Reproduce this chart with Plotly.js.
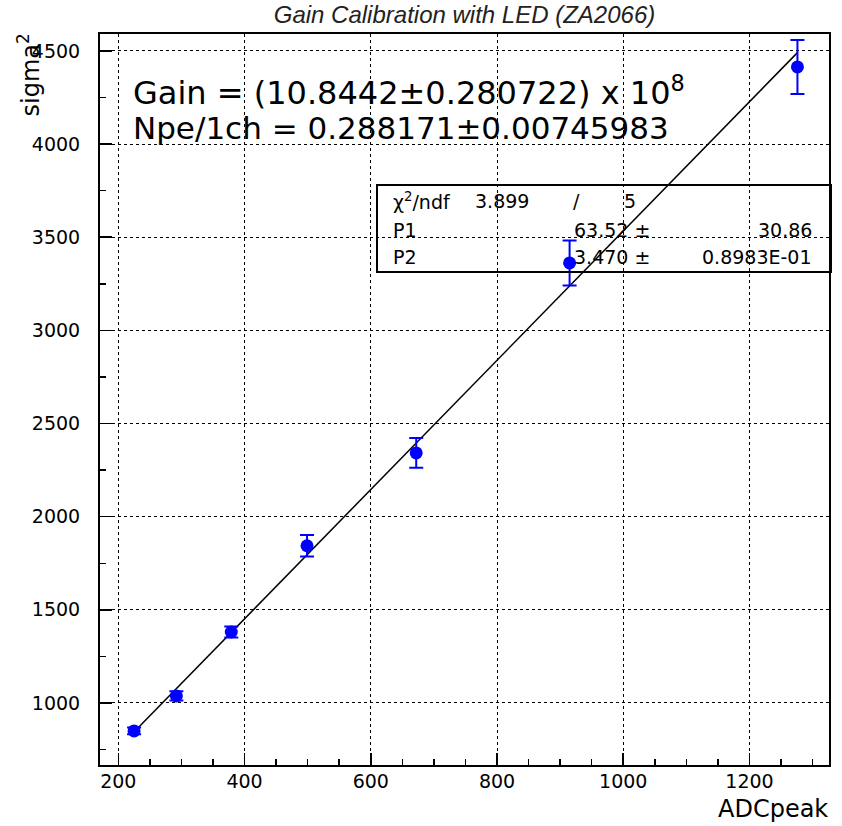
<!DOCTYPE html>
<html><head><meta charset="utf-8">
<script src="https://cdn.plot.ly/plotly-3.0.1.min.js"></script>
<style>html,body{margin:0;padding:0;background:#fff;}#chart{width:842px;height:826px;}</style>
</head><body><div id="chart"></div>
<script>
// ---- data ----
const adcPeak   = [225, 292, 379, 499, 672, 915, 1276];
const sigma2    = [850, 1038, 1381, 1844, 2342, 3362, 4414];
const sigma2Err = [18, 25, 30, 58, 80, 121, 145];
const fitX = [226, 1276];
const fitY = [848, 4491];
const xTickVals = [200, 400, 600, 800, 1000, 1200];
const yTickVals = [1000, 1500, 2000, 2500, 3000, 3500, 4000, 4500];
const titleText = 'Gain Calibration with LED (ZA2066)';
const xTitle = 'ADCpeak';
const yTitle = 'sigma<sup>2</sup>';
const gainText = 'Gain = (10.8442±0.280722) x 10<sup>8</sup>';
const npeText = 'Npe/1ch = 0.288171±0.00745983';
const statNames = ['χ<sup>2</sup>/ndf', 'P1', 'P2'];
const chi2Parts = ['3.899', '/', '5'];
const parVals = ['63.52 ±', '3.470 ±'];
const parErrs = ['30.86', '0.8983E-01'];

// ---- geometry helpers (pixel -> paper) ----
const L = 100, T = 34, W = 729, H = 731;
const px = x => (x - L) / W;
const py = y => 1 - (y - T) / H;
const FONT = 'DejaVu Sans, Liberation Sans, sans-serif';

const traces = [
  { x: fitX, y: fitY, mode: 'lines', line: {color: '#000', width: 1.5}, hoverinfo: 'skip' },
  { x: adcPeak, y: sigma2, mode: 'markers',
    marker: {color: '#0000ff', size: 13, symbol: 'circle'},
    error_y: {type: 'data', array: sigma2Err, color: '#0000ff', thickness: 2, width: 7} }
];

const annotations = [
  {text: gainText, xref: 'paper', yref: 'paper', x: px(131), y: py(91), xanchor: 'left', yanchor: 'middle', showarrow: false, font: {family: FONT, size: 32, color: '#000'}},
  {text: npeText, xref: 'paper', yref: 'paper', x: px(131), y: py(128), xanchor: 'left', yanchor: 'middle', showarrow: false, font: {family: FONT, size: 31, color: '#000'}},
  {text: yTitle, xref: 'paper', yref: 'paper', x: px(29), y: py(32), xanchor: 'center', yanchor: 'top', textangle: -90, showarrow: false, font: {family: FONT, size: 24, color: '#000'}},
  {text: xTitle, xref: 'paper', yref: 'paper', x: px(830), y: py(809), xanchor: 'right', yanchor: 'middle', showarrow: false, font: {family: FONT, size: 24, color: '#000'}}
];
const statY = [201, 230, 257];
const sf = {family: FONT, size: 19, color: '#000'};
statNames.forEach((s, i) => annotations.push({text: s, xref: 'paper', yref: 'paper', x: px(391), y: py(statY[i]), xanchor: 'left', yanchor: 'middle', showarrow: false, font: sf}));
annotations.push({text: chi2Parts[0], xref: 'paper', yref: 'paper', x: px(473), y: py(statY[0]), xanchor: 'left', yanchor: 'middle', showarrow: false, font: sf});
annotations.push({text: chi2Parts[1], xref: 'paper', yref: 'paper', x: px(576), y: py(statY[0]), xanchor: 'center', yanchor: 'middle', showarrow: false, font: sf});
annotations.push({text: chi2Parts[2], xref: 'paper', yref: 'paper', x: px(622), y: py(statY[0]), xanchor: 'left', yanchor: 'middle', showarrow: false, font: sf});
parVals.forEach((s, i) => annotations.push({text: s, xref: 'paper', yref: 'paper', x: px(572), y: py(statY[i + 1]), xanchor: 'left', yanchor: 'middle', showarrow: false, font: sf}));
parErrs.forEach((s, i) => annotations.push({text: s, xref: 'paper', yref: 'paper', x: px(814), y: py(statY[i + 1]), xanchor: 'right', yanchor: 'middle', showarrow: false, font: sf}));

const axisCommon = {
  showline: true, linecolor: '#000', linewidth: 2, mirror: true,
  ticks: 'inside', ticklen: 12, tickwidth: 1.5, tickcolor: '#000',
  showgrid: true, gridcolor: '#000', griddash: 'dot', gridwidth: 1,
  zeroline: false, tickfont: {family: FONT, size: 19, color: '#000'}
};

const layout = {
  width: 842, height: 826,
  margin: {l: L, r: 842 - L - W, t: T, b: 826 - T - H, pad: 0},
  paper_bgcolor: '#fff', plot_bgcolor: '#fff',
  showlegend: false,
  title: {text: titleText, x: 0.5, xref: 'paper', y: 1 - 15 / 826, yref: 'container', yanchor: 'middle',
          font: {family: 'Liberation Sans, Arial, sans-serif', size: 24, color: '#222', style: 'italic'}},
  xaxis: Object.assign({}, axisCommon, {range: [171, 1326], tickvals: xTickVals, ticklabelstandoff: -2,
          minor: {dtick: 50, tick0: 0, ticks: 'inside', ticklen: 6, tickcolor: '#000', showgrid: false}}),
  yaxis: Object.assign({}, axisCommon, {range: [667, 4591], tickvals: yTickVals, ticklabelstandoff: 14,
          minor: {dtick: 250, tick0: 0, ticks: 'inside', ticklen: 6, tickcolor: '#000', showgrid: false}}),
  annotations: annotations,
  shapes: [{type: 'rect', xref: 'paper', yref: 'paper', x0: px(377), x1: px(831), y0: py(272), y1: py(185), line: {color: '#000', width: 2}, fillcolor: 'rgba(0,0,0,0)'}]
};

Plotly.newPlot('chart', traces, layout, {displayModeBar: false, staticPlot: true});
</script></body></html>
